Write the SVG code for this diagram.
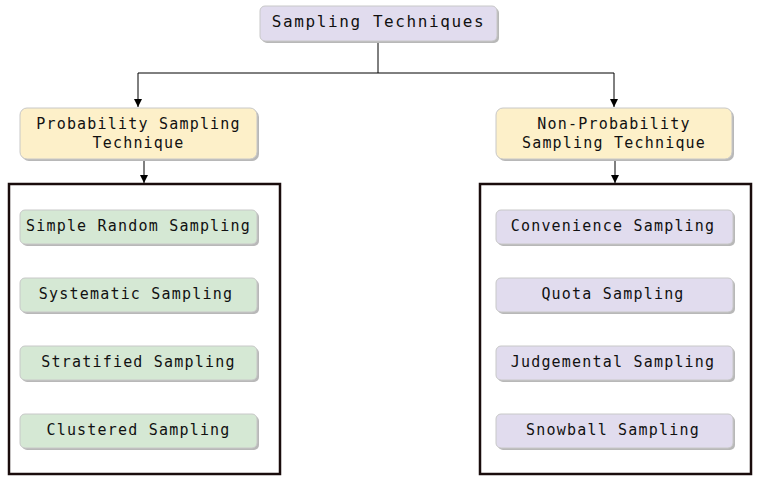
<svg xmlns="http://www.w3.org/2000/svg" width="759" height="488" viewBox="0 0 759 488">
<style>
text{font-family:"DejaVu Sans Mono","Liberation Mono",monospace;font-size:15px;letter-spacing:1.2px;fill:#111;text-anchor:middle;dominant-baseline:central}
.title{font-size:16px;letter-spacing:1.6px}
.sh{fill:#b8b8b8}
.b{stroke:#c8c8c8;stroke-width:1}
.grn{fill:#d5e8d4}
.pur{fill:#e1dcee}
.yel{fill:#fdf0c9}
.cont{fill:#fff;stroke:#1a0c0c;stroke-width:2.5}
.ln{fill:none;stroke:#000;stroke-width:1}
</style>
<defs>
<marker id="ah" viewBox="0 0 10 10" refX="10" refY="5" markerWidth="8" markerHeight="8" orient="auto" markerUnits="userSpaceOnUse"><path d="M0,0 L10,5 L0,10 z" fill="#000"/></marker>
</defs>
<rect width="759" height="488" fill="#fff"/>
<g id="connectors">
<path class="ln" d="M378,41 V73"/>
<path class="ln" d="M138,73 H614"/>
<path class="ln" d="M138,73 V107" marker-end="url(#ah)"/>
<path class="ln" d="M614,73 V107" marker-end="url(#ah)"/>
<path class="ln" d="M144,160 V183" marker-end="url(#ah)"/>
<path class="ln" d="M615,160 V183" marker-end="url(#ah)"/>
</g>
<g id="root">
<rect class="sh" x="262" y="8" width="237" height="35" rx="5"/>
<rect class="pur b" x="260" y="6" width="237" height="35" rx="5"/>
<text class="title" x="378.5" y="21">Sampling Techniques</text>
</g>
<g id="prob">
<rect class="sh" x="22" y="110" width="237" height="51" rx="7"/>
<rect class="yel b" x="20" y="108" width="237" height="51" rx="7"/>
<text x="138.5" y="124">Probability Sampling</text>
<text x="138.5" y="143">Technique</text>
</g>
<g id="nonprob">
<rect class="sh" x="498" y="110" width="236" height="51" rx="7"/>
<rect class="yel b" x="496" y="108" width="236" height="51" rx="7"/>
<text x="614" y="124">Non-Probability</text>
<text x="614" y="143">Sampling Technique</text>
</g>
<g id="left-group">
<rect class="cont" x="9" y="184" width="271" height="290"/>
</g>
<g id="right-group">
<rect class="cont" x="480" y="184" width="271" height="290"/>
</g>
<g id="simple">
<rect class="sh" x="22" y="212" width="237" height="34" rx="5"/>
<rect class="grn b" x="20" y="210" width="237" height="34" rx="5"/>
<text x="138.5" y="226">Simple Random Sampling</text>
</g>
<g id="systematic">
<rect class="sh" x="22" y="280" width="237" height="34" rx="5"/>
<rect class="grn b" x="20" y="278" width="237" height="34" rx="5"/>
<text x="136" y="294">Systematic Sampling</text>
</g>
<g id="stratified">
<rect class="sh" x="22" y="348" width="237" height="34" rx="5"/>
<rect class="grn b" x="20" y="346" width="237" height="34" rx="5"/>
<text x="138.5" y="362">Stratified Sampling</text>
</g>
<g id="clustered">
<rect class="sh" x="22" y="416" width="237" height="34" rx="5"/>
<rect class="grn b" x="20" y="414" width="237" height="34" rx="5"/>
<text x="138.5" y="430">Clustered Sampling</text>
</g>
<g id="convenience">
<rect class="sh" x="498" y="212" width="237" height="34" rx="5"/>
<rect class="pur b" x="496" y="210" width="237" height="34" rx="5"/>
<text x="613" y="226">Convenience Sampling</text>
</g>
<g id="quota">
<rect class="sh" x="498" y="280" width="237" height="34" rx="5"/>
<rect class="pur b" x="496" y="278" width="237" height="34" rx="5"/>
<text x="613" y="294">Quota Sampling</text>
</g>
<g id="judgemental">
<rect class="sh" x="498" y="348" width="237" height="34" rx="5"/>
<rect class="pur b" x="496" y="346" width="237" height="34" rx="5"/>
<text x="613" y="362">Judgemental Sampling</text>
</g>
<g id="snowball">
<rect class="sh" x="498" y="416" width="237" height="34" rx="5"/>
<rect class="pur b" x="496" y="414" width="237" height="34" rx="5"/>
<text x="613" y="430">Snowball Sampling</text>
</g>
</svg>
